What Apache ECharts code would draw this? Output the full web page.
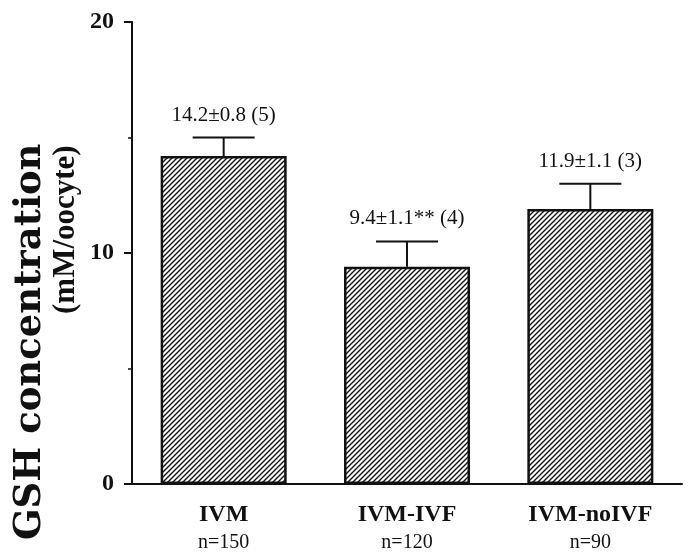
<!DOCTYPE html>
<html>
<head>
<meta charset="utf-8">
<script src="https://cdn.jsdelivr.net/npm/echarts@6/dist/echarts.min.js"></script>
<style>html,body{margin:0;padding:0;background:#fff}#c{width:690px;height:553px}</style>
</head>
<body>
<div id="c"></div>
<script>
const categories = ['IVM', 'IVM-IVF', 'IVM-noIVF'];
const sampleSizes = ['n=150', 'n=120', 'n=90'];
const means = [14.2, 9.4, 11.9];
const errors = [0.8, 1.1, 1.1];
const valueLabels = ['14.2\u00b10.8 (5)', '9.4\u00b11.1** (4)', '11.9\u00b11.1 (3)'];
const yTicks = [0, 10, 20];

const ink = '#111';
const tile = document.createElement('canvas');
tile.width = 5; tile.height = 5;
const tc = tile.getContext('2d');
tc.fillStyle = '#fff'; tc.fillRect(0, 0, 5, 5);
tc.strokeStyle = '#111'; tc.lineWidth = 1.4;
tc.beginPath();
tc.moveTo(-1, 6); tc.lineTo(6, -1);
tc.moveTo(-1, 1); tc.lineTo(1, -1);
tc.moveTo(4, 6); tc.lineTo(6, 4);
tc.stroke();

const chart = echarts.init(document.getElementById('c'), null, {renderer: 'canvas'});
chart.setOption({
  animation: false,
  backgroundColor: '#fff',
  grid: {left: 132, right: 8, top: 22, bottom: 69},
  xAxis: {
    type: 'category',
    data: categories,
    axisLine: {lineStyle: {color: ink, width: 2}},
    axisTick: {alignWithLabel: true, length: 8, lineStyle: {color: ink, width: 2}},
    axisLabel: {
      margin: 17,
      formatter: function (v, i) { return '{a|' + v + '}\n{b|' + sampleSizes[i] + '}'; },
      rich: {
        a: {fontFamily: 'Liberation Serif', fontWeight: 'bold', fontSize: 24, color: ink, lineHeight: 28},
        b: {fontFamily: 'Liberation Serif', fontSize: 20, color: ink, lineHeight: 28}
      }
    }
  },
  yAxis: {
    type: 'value',
    min: 0, max: 20, interval: 10,
    axisLine: {show: true, lineStyle: {color: ink, width: 2}},
    axisTick: {show: true, length: 8, lineStyle: {color: ink, width: 2}},
    minorTick: {show: true, splitNumber: 2, length: 4, lineStyle: {color: ink, width: 1.5}},
    splitLine: {show: false},
    axisLabel: {
      margin: 18,
      fontFamily: 'Liberation Serif', fontWeight: 'bold', fontSize: 24, color: ink,
      formatter: function (v) { return yTicks.indexOf(v) >= 0 ? String(v) : ''; }
    }
  },
  series: [
    {
      type: 'bar',
      data: means,
      barWidth: 126,
      itemStyle: {color: {image: tile, repeat: 'repeat'}, borderColor: ink, borderWidth: 2.5}
    },
    {
      type: 'custom',
      data: means.map(function (m, i) { return [i, m, m + errors[i]]; }),
      renderItem: function (params, api) {
        const base = api.coord([api.value(0), api.value(1)]);
        const top = api.coord([api.value(0), api.value(2)]);
        const half = 31;
        return {
          type: 'group',
          children: [
            {type: 'line', shape: {x1: base[0], y1: base[1], x2: top[0], y2: top[1]}, style: {stroke: ink, lineWidth: 2}},
            {type: 'line', shape: {x1: top[0] - half, y1: top[1], x2: top[0] + half, y2: top[1]}, style: {stroke: ink, lineWidth: 2}},
            {type: 'text', x: top[0], y: top[1] - 12, style: {text: valueLabels[params.dataIndex], fontFamily: 'Liberation Serif', fontSize: 21, fill: ink, textAlign: 'center', textVerticalAlign: 'bottom'}}
          ]
        };
      },
      z: 5
    }
  ],
  graphic: [
    {type: 'text', x: 30, y: 540, rotation: Math.PI / 2,
     style: {text: 'GSH concentration', fontFamily: 'DejaVu Serif', fontWeight: 'bold', fontSize: 37, fill: ink, textAlign: 'left', textVerticalAlign: 'middle'}},
    {type: 'text', x: 66, y: 314, rotation: Math.PI / 2,
     style: {text: '(mM/oocyte)', fontFamily: 'Liberation Serif', fontWeight: 'bold', fontSize: 31, fill: ink, textAlign: 'left', textVerticalAlign: 'middle'}}
  ]
});
</script>
</body>
</html>
